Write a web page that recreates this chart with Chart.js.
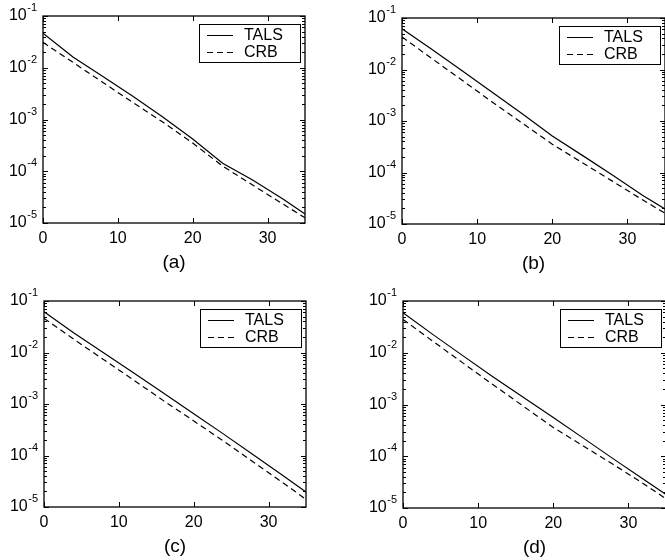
<!DOCTYPE html>
<html>
<head>
<meta charset="utf-8">
<script src="https://cdn.jsdelivr.net/npm/chart.js@4.4.1/dist/chart.umd.min.js"></script>
<style>
  html, body { margin: 0; padding: 0; background: #fff; overflow: hidden; }
  body { width: 665px; height: 560px; position: relative; }
  canvas { position: absolute; }
</style>
</head>
<body>
<canvas id="pa" width="332" height="280" style="left:0px;top:0px"></canvas>
<canvas id="pb" width="340" height="280" style="left:333px;top:0px"></canvas>
<canvas id="pc" width="332" height="280" style="left:0px;top:280px"></canvas>
<canvas id="pd" width="340" height="280" style="left:333px;top:280px"></canvas>
<script>
// Sample positions shared by every panel
const xGrid = [0, 4, 8, 12, 16, 20, 24, 28, 32, 35];

// Panel (a)
const talsA = [0.0463, 0.0162, 0.0068, 0.0028, 0.00112, 4.2e-4, 1.43e-4, 6.8e-5, 2.95e-5, 1.5e-5];
const crbA  = [0.031, 0.0127, 0.0052, 0.00214, 8.9e-4, 3.5e-4, 1.26e-4, 5.4e-5, 2.35e-5, 1.26e-5];
// Panel (b)
const talsB = [0.062, 0.0245, 0.0095, 0.0036, 0.00138, 5.1e-4, 2.15e-4, 8.9e-5, 3.6e-5, 1.95e-5];
const crbB  = [0.043, 0.0162, 0.0062, 0.00234, 9.1e-4, 3.55e-4, 1.55e-4, 6.8e-5, 2.95e-5, 1.62e-5];
// Panel (c)
const talsC = [0.062, 0.024, 0.0098, 0.0040, 0.00162, 6.5e-4, 2.6e-4, 1.02e-4, 4.0e-5, 1.95e-5];
const crbC  = [0.046, 0.018, 0.0072, 0.0029, 0.00115, 4.7e-4, 1.9e-4, 7.4e-5, 2.9e-5, 1.41e-5];
// Panel (d)
const talsD = [0.059, 0.0224, 0.0087, 0.0034, 0.00138, 5.6e-4, 2.24e-4, 8.9e-5, 3.6e-5, 1.82e-5];
const crbD  = [0.044, 0.0166, 0.0063, 0.0024, 9.3e-4, 3.6e-4, 1.58e-4, 6.9e-5, 2.95e-5, 1.51e-5];

const seriesNames = ['TALS', 'CRB'];
const panelLabels = ['(a)', '(b)', '(c)', '(d)'];
const xTicks = [0, 10, 20, 30];
const yExponents = [-1, -2, -3, -4, -5];

const FONT = '"Liberation Sans", Arial, Helvetica, sans-serif';

// MATLAB-style frame: inward ticks, power-of-ten labels, boxed legend
const axesFrame = {
  id: 'axesFrame',
  afterDraw(chart, args, opts) {
    const { ctx, chartArea: a, scales: { x, y } } = chart;
    ctx.save();
    ctx.strokeStyle = '#000';
    ctx.fillStyle = '#000';

    // minor log ticks
    ctx.lineWidth = 1;
    ctx.beginPath();
    for (let e = -5; e < -1; e++) {
      for (let m = 2; m <= 9; m++) {
        const py = Math.round(y.getPixelForValue(m * Math.pow(10, e))) + 0.5;
        ctx.moveTo(a.left, py); ctx.lineTo(a.left + 3, py);
        ctx.moveTo(a.right, py); ctx.lineTo(a.right - 3, py);
      }
    }
    // major ticks
    yExponents.forEach(e => {
      const py = Math.round(y.getPixelForValue(Math.pow(10, e))) + 0.5;
      ctx.moveTo(a.left, py); ctx.lineTo(a.left + 5, py);
      ctx.moveTo(a.right, py); ctx.lineTo(a.right - 5, py);
    });
    xTicks.forEach(t => {
      const px = Math.round(x.getPixelForValue(t)) + 0.5;
      ctx.moveTo(px, a.bottom); ctx.lineTo(px, a.bottom - 5);
      ctx.moveTo(px, a.top); ctx.lineTo(px, a.top + 5);
    });
    ctx.stroke();

    // frame
    ctx.lineWidth = 1.3;
    ctx.strokeRect(a.left, a.top, a.right - a.left, a.bottom - a.top);

    // y labels: 10 with raised exponent
    ctx.textBaseline = 'middle';
    ctx.textAlign = 'right';
    yExponents.forEach(e => {
      const py = y.getPixelForValue(Math.pow(10, e));
      ctx.font = '11px ' + FONT;
      const sup = '-' + Math.abs(e);
      const supRight = a.left - 6;
      ctx.fillText(sup, supRight, py - 8);
      const supW = ctx.measureText(sup).width;
      ctx.font = '16px ' + FONT;
      ctx.fillText('10', supRight - supW - 0.5, py);
    });

    // x labels
    ctx.textAlign = 'center';
    ctx.font = '16px ' + FONT;
    xTicks.forEach(t => {
      ctx.fillText(String(t), x.getPixelForValue(t), a.bottom + 16);
    });

    // panel caption
    ctx.font = '19px ' + FONT;
    ctx.fillText(opts.caption, (a.left + a.right) / 2, a.bottom + 40);

    // legend
    const bw = 101, bh = 38;
    const bx = a.right - 5 - bw, by = a.top + 8;
    ctx.fillStyle = '#fff';
    ctx.fillRect(bx, by, bw, bh);
    ctx.lineWidth = 1;
    ctx.strokeStyle = '#000';
    ctx.strokeRect(bx + 0.5, by + 0.5, bw, bh);
    ctx.fillStyle = '#000';
    ctx.textAlign = 'left';
    ctx.font = '16px ' + FONT;
    chart.data.datasets.forEach((ds, i) => {
      const ry = by + 11 + i * 17;
      ctx.setLineDash(ds.borderDash || []);
      ctx.lineWidth = 1;
      ctx.beginPath();
      ctx.moveTo(bx + 8, ry + 0.5);
      ctx.lineTo(bx + 34, ry + 0.5);
      ctx.stroke();
      ctx.setLineDash([]);
      ctx.fillText(ds.label, bx + 45, ry + 1);
    });
    ctx.restore();
  }
};

function makePanel(id, tals, crb, caption, pad) {
  const toPts = arr => xGrid.map((xv, i) => ({ x: xv, y: arr[i] }));
  new Chart(document.getElementById(id), {
    type: 'line',
    data: {
      datasets: [
        { label: seriesNames[0], data: toPts(tals), borderColor: '#000', borderWidth: 1.2, borderDash: [] },
        { label: seriesNames[1], data: toPts(crb), borderColor: '#000', borderWidth: 1.2, borderDash: [6, 4] }
      ]
    },
    options: {
      responsive: false,
      animation: false,
      devicePixelRatio: 1,
      layout: { padding: pad },
      elements: { point: { radius: 0 }, line: { tension: 0 } },
      plugins: { legend: { display: false }, tooltip: { enabled: false }, axesFrame: { caption } },
      scales: {
        x: { type: 'linear', min: 0, max: 35, display: false },
        y: { type: 'logarithmic', min: 1e-5, max: 1e-1, display: false }
      }
    },
    plugins: [axesFrame]
  });
}

makePanel('pa', talsA, crbA, panelLabels[0], { left: 43, right: 27, top: 16, bottom: 57 });
makePanel('pb', talsB, crbB, panelLabels[1], { left: 69, right: 8, top: 18, bottom: 56 });
makePanel('pc', talsC, crbC, panelLabels[2], { left: 44, right: 26, top: 21, bottom: 53 });
makePanel('pd', talsD, crbD, panelLabels[3], { left: 70, right: 7, top: 21, bottom: 52 });
</script>
</body>
</html>
